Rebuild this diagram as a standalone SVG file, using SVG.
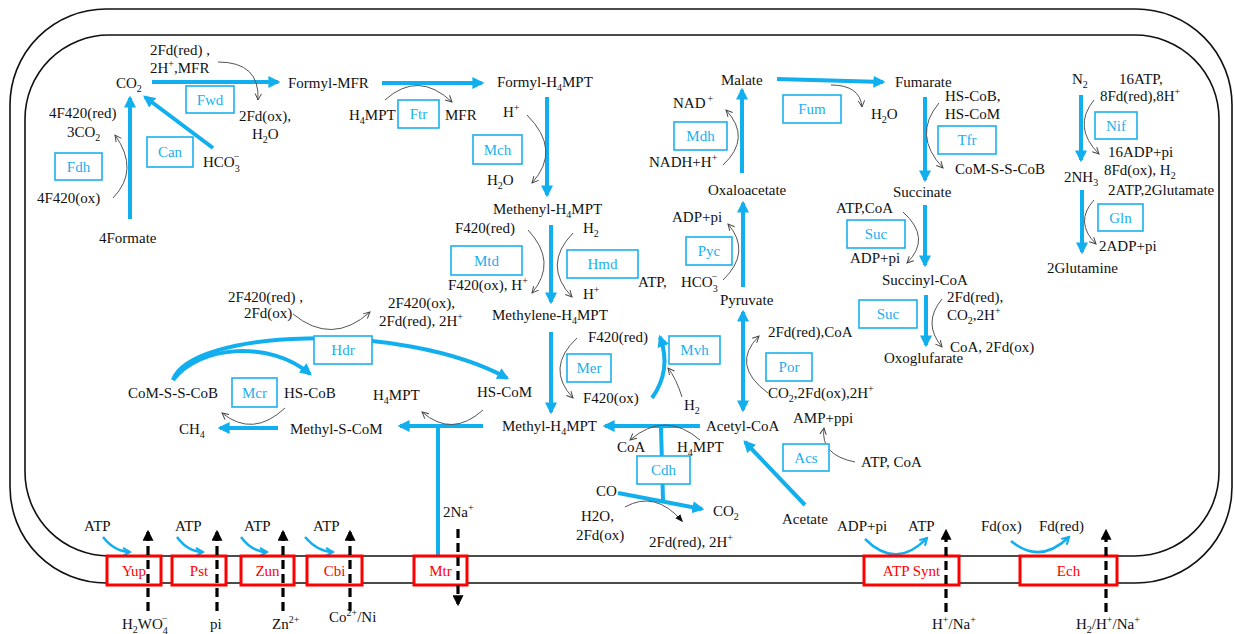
<svg xmlns="http://www.w3.org/2000/svg" width="1234" height="634" viewBox="0 0 1234 634">
<style>
text{font-family:"Liberation Serif","Times New Roman",serif;font-size:15px;fill:#111}
.s{font-size:10px}
.e rect{fill:#fff;stroke:#1AB0EE;stroke-width:1.6}
.e text{fill:#1AB0EE;text-anchor:middle}
.m rect{fill:#fff;stroke:#F00;stroke-width:3}
.m text{fill:#F00;text-anchor:middle}
.b{fill:none;stroke:#12AFEF;stroke-width:4}
.bt{fill:none;stroke:#12AFEF;stroke-width:2.5}
.t{fill:none;stroke:#555;stroke-width:1}
.d{fill:none;stroke:#000;stroke-width:3.2;stroke-dasharray:9 5}
</style>
<defs>
<marker id="ab" viewBox="0 0 10 10" refX="8" refY="5" markerWidth="12" markerHeight="12" orient="auto-start-reverse" markerUnits="userSpaceOnUse"><path d="M0,0L10,5L0,10z" fill="#12AFEF"/></marker>
<marker id="ao" viewBox="0 0 10 10" refX="8" refY="5" markerWidth="10" markerHeight="10" orient="auto" markerUnits="userSpaceOnUse"><path d="M1,1L8,5L1,9" fill="none" stroke="#12AFEF" stroke-width="2.2"/></marker>
<marker id="at" viewBox="0 0 10 10" refX="9" refY="5" markerWidth="8" markerHeight="8" orient="auto" markerUnits="userSpaceOnUse"><path d="M1,1L9,5L1,9" fill="none" stroke="#444" stroke-width="1.2"/></marker>
<marker id="af" viewBox="0 0 10 10" refX="8" refY="5" markerWidth="8" markerHeight="8" orient="auto" markerUnits="userSpaceOnUse"><path d="M0,1L10,5L0,9z" fill="#111"/></marker>
<marker id="ak" viewBox="0 0 10 10" refX="8" refY="5" markerWidth="11" markerHeight="11" orient="auto" markerUnits="userSpaceOnUse"><path d="M0,0L10,5L0,10z" fill="#000"/></marker>
</defs>

<g id="cell">
<rect x="10" y="9" width="1222" height="574" rx="96" ry="96" fill="none" stroke="#111" stroke-width="1.6"/>
<rect x="25" y="35" width="1194" height="521" rx="84" ry="84" fill="none" stroke="#111" stroke-width="1.6"/>
</g>

<g id="connectors">
<!-- main blue arrows -->
<path class="b" d="M152,82L278,82" marker-end="url(#ab)"/>
<path class="b" d="M382,83L482,83" marker-end="url(#ab)"/>
<path class="b" d="M547,97L547,195" marker-end="url(#ab)"/>
<path class="b" d="M551,225L551,302" marker-end="url(#ab)"/>
<path class="b" d="M551,332L551,412" marker-end="url(#ab)"/>
<path class="b" d="M483,426L400,426" marker-end="url(#ab)"/>
<path class="b" d="M278,428L220,428" marker-end="url(#ab)"/>
<path class="b" d="M438,426L438,555"/>
<path class="b" d="M130,219L130,98" marker-end="url(#ab)"/>
<path class="b" d="M213,148L145,97" marker-end="url(#ab)"/>
<path class="b" d="M700,426L605,426" marker-end="url(#ab)"/>
<path class="b" d="M661,428L663,500"/>
<path class="b" d="M618,493L702,509" marker-end="url(#ab)"/>
<path class="b" d="M805,505L745,442" marker-end="url(#ab)"/>
<path class="b" d="M743,312L743,410" marker-start="url(#ab)" marker-end="url(#ab)"/>
<path class="b" d="M743,287L743,203" marker-end="url(#ab)"/>
<path class="b" d="M742,173L742,90" marker-end="url(#ab)"/>
<path class="b" d="M777,79L883,82" marker-end="url(#ab)"/>
<path class="b" d="M925,97L925,180" marker-end="url(#ab)"/>
<path class="b" d="M925,205L925,265" marker-end="url(#ab)"/>
<path class="b" d="M926,295L926,345" marker-end="url(#ab)"/>
<path class="b" d="M1081,95L1081,160" marker-end="url(#ab)"/>
<path class="b" d="M1082,190L1082,252" marker-end="url(#ab)"/>
<path class="b" d="M173,380C190,330 400,320 507,378" marker-end="url(#ab)"/>
<path class="b" d="M173,380C200,345 270,340 310,374" marker-end="url(#ab)"/>
<path class="b" d="M652,398Q672,370 660,337" marker-end="url(#ab)"/>
<!-- thin cofactor arrows -->
<path class="t" d="M218,62Q260,62 258,100" marker-end="url(#at)"/>
<path class="t" d="M113,198Q140,170 115,135" marker-end="url(#at)"/>
<path class="t" d="M385,100Q418,70 452,102" marker-end="url(#at)"/>
<path class="t" d="M527,115Q562,150 532,183" marker-end="url(#at)"/>
<path class="t" d="M831,85Q860,85 862,107" marker-end="url(#at)"/>
<path class="t" d="M723,165Q752,138 726,110" marker-end="url(#at)"/>
<path class="t" d="M939,103Q912,135 943,168" marker-end="url(#at)"/>
<path class="t" d="M1094,100Q1072,127 1099,154" marker-end="url(#at)"/>
<path class="t" d="M1094,200Q1074,222 1096,244" marker-end="url(#at)"/>
<path class="t" d="M293,314Q332,346 370,312" marker-end="url(#at)"/>
<path class="t" d="M285,408Q253,438 222,413" marker-end="url(#at)"/>
<path class="t" d="M528,230Q558,262 532,293" marker-end="url(#at)"/>
<path class="t" d="M573,233Q542,265 572,297" marker-end="url(#at)"/>
<path class="t" d="M577,338Q545,368 573,398" marker-end="url(#at)"/>
<path class="t" d="M483,410Q452,438 422,412" marker-end="url(#at)"/>
<path class="t" d="M723,280Q752,252 728,224" marker-end="url(#at)"/>
<path class="t" d="M768,393Q730,365 759,336" marker-end="url(#at)"/>
<path class="t" d="M682,397Q676,378 668,368" marker-end="url(#at)"/>
<path class="t" d="M903,212Q932,238 907,263" marker-end="url(#at)"/>
<path class="t" d="M942,299Q922,323 942,347" marker-end="url(#at)"/>
<path class="t" d="M700,440Q665,410 630,440" marker-end="url(#at)"/>
<path class="t" d="M625,507Q655,490 682,521" marker-end="url(#af)"/>
<path class="t" d="M855,462Q820,455 824,428" marker-end="url(#at)"/>
<!-- membrane blue arrows -->
<path class="bt" d="M103,537Q115,552 130,552" marker-end="url(#ao)"/>
<path class="bt" d="M177,537Q188,552 203,552" marker-end="url(#ao)"/>
<path class="bt" d="M241,537Q252,552 267,552" marker-end="url(#ao)"/>
<path class="bt" d="M305,537Q318,552 333,552" marker-end="url(#ao)"/>
<path class="bt" d="M865,539Q896,570 927,538" marker-end="url(#ao)"/>
<path class="bt" d="M1011,541Q1040,565 1069,537" marker-end="url(#ao)"/>
</g>

<g id="membrane-proteins" class="m">
<g id="Yup"><rect x="107" y="556" width="54" height="29"/><text x="134" y="576">Yup</text></g>
<g id="Pst"><rect x="172" y="556" width="54" height="29"/><text x="199" y="576">Pst</text></g>
<g id="Zun"><rect x="241" y="556" width="53" height="29"/><text x="267.5" y="576">Zun</text></g>
<g id="Cbi"><rect x="307" y="556" width="55" height="29"/><text x="334.5" y="576">Cbi</text></g>
<g id="Mtr"><rect x="414" y="556" width="53" height="29"/><text x="440.5" y="576">Mtr</text></g>
<g id="ATPSynt"><rect x="864" y="556" width="95" height="29"/><text x="911.5" y="576">ATP Synt</text></g>
<g id="Ech"><rect x="1020" y="556" width="97" height="29"/><text x="1068.5" y="576">Ech</text></g>
</g>

<g id="transport">
<path class="d" d="M148,611L148,532" marker-end="url(#ak)"/>
<path class="d" d="M217,611L217,532" marker-end="url(#ak)"/>
<path class="d" d="M283,611L283,532" marker-end="url(#ak)"/>
<path class="d" d="M350,611L350,532" marker-end="url(#ak)"/>
<path class="d" d="M458,529L458,604" marker-end="url(#ak)"/>
<path class="d" d="M946,612L946,531" marker-end="url(#ak)"/>
<path class="d" d="M1106,612L1106,531" marker-end="url(#ak)"/>
</g>

<g id="enzymes" class="e">
<g id="Fwd"><rect x="186" y="86" width="48" height="27"/><text x="210" y="105">Fwd</text></g>
<g id="Can"><rect x="147" y="137" width="46" height="30"/><text x="170" y="157">Can</text></g>
<g id="Fdh"><rect x="55" y="153" width="47" height="27"/><text x="78.5" y="172">Fdh</text></g>
<g id="Ftr"><rect x="398" y="100" width="41" height="28"/><text x="418.5" y="119">Ftr</text></g>
<g id="Mch"><rect x="473" y="135" width="49" height="29"/><text x="497.5" y="155">Mch</text></g>
<g id="Fum"><rect x="783" y="95" width="58" height="28"/><text x="812" y="114">Fum</text></g>
<g id="Mdh"><rect x="674" y="122" width="53" height="28"/><text x="700.5" y="141">Mdh</text></g>
<g id="Tfr"><rect x="938" y="126" width="58" height="28"/><text x="967" y="145">Tfr</text></g>
<g id="Nif"><rect x="1095" y="112" width="42" height="27"/><text x="1116" y="131">Nif</text></g>
<g id="Gln"><rect x="1098" y="204" width="45" height="27"/><text x="1120.5" y="223">Gln</text></g>
<g id="Mtd"><rect x="451" y="246" width="71" height="29"/><text x="486.5" y="266">Mtd</text></g>
<g id="Hmd"><rect x="567" y="250" width="71" height="28"/><text x="602.5" y="269">Hmd</text></g>
<g id="Pyc"><rect x="686" y="237" width="46" height="28"/><text x="709" y="256">Pyc</text></g>
<g id="Suc1"><rect x="847" y="220" width="58" height="28"/><text x="876" y="239">Suc</text></g>
<g id="Suc2"><rect x="859" y="300" width="58" height="28"/><text x="888" y="319">Suc</text></g>
<g id="Hdr"><rect x="314" y="336" width="58" height="28"/><text x="343" y="355">Hdr</text></g>
<g id="Mcr"><rect x="232" y="378" width="45" height="29"/><text x="254.5" y="398">Mcr</text></g>
<g id="Mer"><rect x="567" y="354" width="44" height="28"/><text x="589" y="373">Mer</text></g>
<g id="Mvh"><rect x="669" y="336" width="51" height="28"/><text x="694.5" y="355">Mvh</text></g>
<g id="Por"><rect x="766" y="353" width="46" height="28"/><text x="789" y="372">Por</text></g>
<g id="Cdh"><rect x="637" y="456" width="53" height="28"/><text x="663.5" y="475">Cdh</text></g>
<g id="Acs"><rect x="783" y="444" width="46" height="27"/><text x="806" y="463">Acs</text></g>
</g>

<g id="labels">
<text x="150" y="55">2Fd(red) ,</text>
<text x="150" y="73">2H<tspan class="s" dy="-6">+</tspan><tspan dy="6">,MFR</tspan></text>
<text x="116" y="88">CO<tspan class="s" dy="4">2</tspan></text>
<text x="288" y="88">Formyl-MFR</text>
<text x="239" y="121">2Fd(ox),</text>
<text x="252" y="139">H<tspan class="s" dy="4">2</tspan><tspan dy="-4">O</tspan></text>
<text x="49" y="118">4F420(red)</text>
<text x="67" y="137">3CO<tspan class="s" dy="4">2</tspan></text>
<text x="37" y="203">4F420(ox)</text>
<text x="99" y="243">4Formate</text>
<text x="203" y="167">HCO<tspan class="s" dy="5">3</tspan><tspan class="s" dx="-6" dy="-12">−</tspan></text>
<text x="349" y="120">H<tspan class="s" dy="4">4</tspan><tspan dy="-4">MPT</tspan></text>
<text x="445" y="120">MFR</text>
<text x="497" y="87">Formyl-H<tspan class="s" dy="4">4</tspan><tspan dy="-4">MPT</tspan></text>
<text x="503" y="117">H<tspan class="s" dy="-6">+</tspan></text>
<text x="487" y="185">H<tspan class="s" dy="4">2</tspan><tspan dy="-4">O</tspan></text>
<text x="493" y="214">Methenyl-H<tspan class="s" dy="4">4</tspan><tspan dy="-4">MPT</tspan></text>
<text x="721" y="85">Malate</text>
<text x="895" y="87">Fumarate</text>
<text x="871" y="119">H<tspan class="s" dy="4">2</tspan><tspan dy="-4">O</tspan></text>
<text x="673" y="108">NAD<tspan class="s" dx="2" dy="-6">+</tspan></text>
<text x="649" y="167">NADH+H<tspan class="s" dy="-6">+</tspan></text>
<text x="708" y="195">Oxaloacetate</text>
<text x="945" y="101">HS-CoB,</text>
<text x="945" y="119">HS-CoM</text>
<text x="955" y="174">CoM-S-S-CoB</text>
<text x="893" y="197">Succinate</text>
<text x="1072" y="84">N<tspan class="s" dy="4">2</tspan></text>
<text x="1119" y="84">16ATP,</text>
<text x="1100" y="101">8Fd(red),8H<tspan class="s" dy="-6">+</tspan></text>
<text x="1108" y="157">16ADP+pi</text>
<text x="1104" y="175">8Fd(ox), H<tspan class="s" dy="4">2</tspan></text>
<text x="1064" y="182">2NH<tspan class="s" dy="4">3</tspan></text>
<text x="1108" y="195">2ATP,2Glutamate</text>
<text x="1099" y="251">2ADP+pi</text>
<text x="1047" y="273">2Glutamine</text>
<text x="228" y="302">2F420(red) ,</text>
<text x="244" y="318">2Fd(ox)</text>
<text x="388" y="308">2F420(ox),</text>
<text x="379" y="326">2Fd(red), 2H<tspan class="s" dy="-6">+</tspan></text>
<text x="128" y="398">CoM-S-S-CoB</text>
<text x="284" y="398">HS-CoB</text>
<text x="455" y="233">F420(red)</text>
<text x="583" y="233">H<tspan class="s" dy="4">2</tspan></text>
<text x="448" y="290">F420(ox), H<tspan class="s" dy="-6">+</tspan></text>
<text x="583" y="299">H<tspan class="s" dy="-6">+</tspan></text>
<text x="638" y="287">ATP,</text>
<text x="492" y="320">Methylene-H<tspan class="s" dy="4">4</tspan><tspan dy="-4">MPT</tspan></text>
<text x="588" y="342">F420(red)</text>
<text x="583" y="403">F420(ox)</text>
<text x="477" y="397">HS-CoM</text>
<text x="373" y="400">H<tspan class="s" dy="4">4</tspan><tspan dy="-4">MPT</tspan></text>
<text x="672" y="222">ADP+pi</text>
<text x="681" y="287">HCO<tspan class="s" dy="5">3</tspan><tspan class="s" dx="-6" dy="-12">−</tspan></text>
<text x="720" y="305">Pyruvate</text>
<text x="768" y="337">2Fd(red),CoA</text>
<text x="768" y="398">CO<tspan class="s" dy="4">2</tspan><tspan dy="-4">,2Fd(ox),2H</tspan><tspan class="s" dy="-6">+</tspan></text>
<text x="684" y="410">H<tspan class="s" dy="4">2</tspan></text>
<text x="793" y="423">AMP+ppi</text>
<text x="836" y="213">ATP,CoA</text>
<text x="850" y="263">ADP+pi</text>
<text x="882" y="285">Succinyl-CoA</text>
<text x="884" y="363">Oxoglufarate</text>
<text x="947" y="302">2Fd(red),</text>
<text x="947" y="320">CO<tspan class="s" dy="4">2</tspan><tspan dy="-4">,2H</tspan><tspan class="s" dy="-6">+</tspan></text>
<text x="950" y="352">CoA, 2Fd(ox)</text>
<text x="179" y="434">CH<tspan class="s" dy="4">4</tspan></text>
<text x="290" y="434">Methyl-S-CoM</text>
<text x="502" y="431">Methyl-H<tspan class="s" dy="4">4</tspan><tspan dy="-4">MPT</tspan></text>
<text x="706" y="431">Acetyl-CoA</text>
<text x="617" y="452">CoA</text>
<text x="677" y="452">H<tspan class="s" dy="4">4</tspan><tspan dy="-4">MPT</tspan></text>
<text x="861" y="467">ATP, CoA</text>
<text x="782" y="524">Acetate</text>
<text x="596" y="496">CO</text>
<text x="713" y="516">CO<tspan class="s" dy="4">2</tspan></text>
<text x="581" y="521">H2O,</text>
<text x="576" y="540">2Fd(ox)</text>
<text x="649" y="547">2Fd(red), 2H<tspan class="s" dy="-6">+</tspan></text>
<text x="443" y="517">2Na<tspan class="s" dy="-6">+</tspan></text>
<text x="837" y="531">ADP+pi</text>
<text x="908" y="531">ATP</text>
<text x="981" y="531">Fd(ox)</text>
<text x="1039" y="531">Fd(red)</text>
<text x="84" y="531">ATP</text>
<text x="175" y="531">ATP</text>
<text x="244" y="531">ATP</text>
<text x="313" y="531">ATP</text>
<text x="122" y="629">H<tspan class="s" dy="4">2</tspan><tspan dy="-4">WO</tspan><tspan class="s" dy="5">4</tspan><tspan class="s" dx="-6" dy="-12">−</tspan></text>
<text x="210" y="629">pi</text>
<text x="272" y="629">Zn<tspan class="s" dy="-6">2+</tspan></text>
<text x="329" y="622">Co<tspan class="s" dy="-6">2+</tspan><tspan dy="6">/Ni</tspan></text>
<text x="932" y="629">H<tspan class="s" dy="-6">+</tspan><tspan dy="6">/Na</tspan><tspan class="s" dy="-6">+</tspan></text>
<text x="1076" y="629">H<tspan class="s" dy="4">2</tspan><tspan dy="-4">/H</tspan><tspan class="s" dy="-6">+</tspan><tspan dy="6">/Na</tspan><tspan class="s" dy="-6">+</tspan></text>
</g>
</svg>
